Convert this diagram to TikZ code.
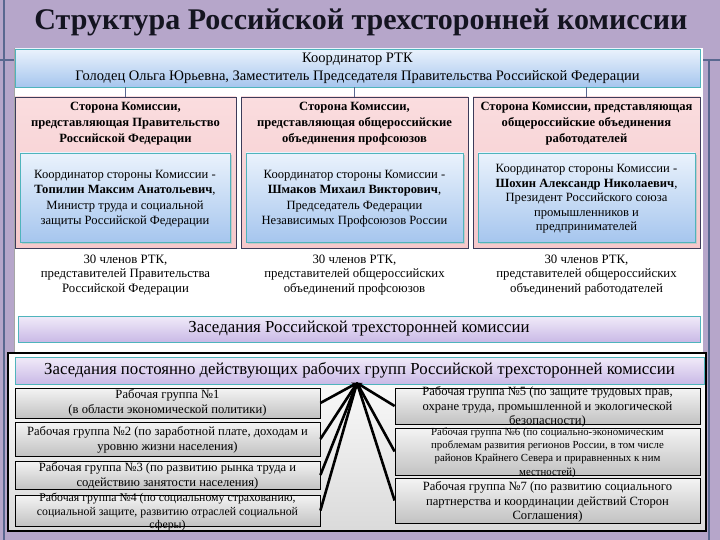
\documentclass[tikz,border=0pt]{standalone}
\usepackage{fontspec}
\setmainfont{Liberation Serif}
\usetikzlibrary{shadings,arrows.meta}
\definecolor{bgl}{HTML}{B6A6CA}
\definecolor{frameline}{HTML}{5A6890}
\definecolor{tealb}{HTML}{4FB4BC}
\definecolor{pinkc}{HTML}{F6C8CB}
\definecolor{pinkt}{HTML}{FADDDF}
\definecolor{colborder}{HTML}{3C3C5A}
\definecolor{bluet}{HTML}{EAF2FC}
\definecolor{blueb}{HTML}{A6C6EE}
\definecolor{lavt}{HTML}{F1EBF9}
\definecolor{lavb}{HTML}{C9B9E6}
\definecolor{greyt}{HTML}{F4F4F4}
\definecolor{greyb}{HTML}{C2C2C2}
\definecolor{titlec}{HTML}{141420}
\newcommand\fTitle{\fontsize{30}{36}\selectfont\bfseries}
\newcommand\fTop{\fontsize{14.5}{18}\selectfont}
\newcommand\fHead{\fontsize{12.6}{16}\selectfont\bfseries}
\newcommand\fIn{\fontsize{12.6}{15.5}\selectfont}
\newcommand\fInS{\fontsize{12.6}{14.6}\selectfont}
\newcommand\fMem{\fontsize{12.8}{14.5}\selectfont}
\newcommand\fBar{\fontsize{16.8}{20}\selectfont}
\newcommand\fWg{\fontsize{12.6}{14.5}\selectfont}
\newcommand\fWgS{\fontsize{11.8}{13.5}\selectfont}
\newcommand\fWgT{\fontsize{10.8}{13.2}\selectfont}
\begin{document}
\begin{tikzpicture}[x=1pt,y=-1pt,
  topbox/.style={draw=tealb, line width=0.8pt, top color=bluet, bottom color=blueb, minimum width=685pt, minimum height=38pt, inner sep=0pt},
  colbox/.style={draw=colborder, line width=0.8pt, top color=pinkt, bottom color=pinkc, minimum height=151pt, inner sep=0pt},
  innerbox/.style={draw=tealb, line width=0.8pt, top color=bluet, bottom color=blueb, minimum height=89pt, inner sep=0pt},
  shadowbox/.style={fill=gray!45, minimum height=89pt, inner sep=0pt},
  barbox/.style={draw=tealb, line width=0.8pt, top color=lavt, bottom color=lavb, inner sep=0pt},
  wgbox/.style={draw=black, line width=0.8pt, top color=greyt, bottom color=greyb, minimum width=305pt, inner sep=0pt},
  txt/.style={align=center, inner sep=0pt, text=black},
  conn/.style={draw=frameline, line width=1.6pt},
  link/.style={draw=black, line width=2.6pt, -{Stealth[length=6pt,width=6pt]}, shorten >=-1pt}
]
\useasboundingbox (0,0) rectangle (720,540);
\fill[bgl] (0,0) rectangle (720,540);
% slide decoration lines
\draw[frameline, line width=1.2pt] (4,0) -- (4,540);
\draw[frameline, line width=1.2pt] (0,60) -- (15,60);
\draw[frameline, line width=1.2pt] (700,60) -- (720,60);
\draw[frameline, line width=1.2pt] (709,60) -- (709,540);
% title
\node[txt, text=titlec, font=\fTitle] (title) at (361,22) {Структура Российской трехсторонней комиссии};
% white panel
\fill[white] (15,48) rectangle (703,353);
\draw[gray!70, line width=0.6pt] (14.5,48) -- (14.5,353);
% top coordinator box
\node[topbox] (top) at (357.5,68) {};
\node[txt, font=\fTop] at (top) {Координатор РТК\\Голодец Ольга Юрьевна, Заместитель Председателя Правительства Российской Федерации};
% columns
\node[colbox, minimum width=221pt] (col1) at (125.5,172.5) {};
\node[colbox, minimum width=227pt] (col2) at (354.5,172.5) {};
\node[colbox, minimum width=227pt] (col3) at (586.5,172.5) {};
\draw[conn] (col1.north |- top.south) -- (col1.north);
\draw[conn] (col2.north |- top.south) -- (col2.north);
\draw[conn] (col3.north |- top.south) -- (col3.north);
\node[txt, font=\fHead] (h1) at (125.5,124) {Сторона Комиссии,\\представляющая Правительство\\Российской Федерации};
\node[txt, font=\fHead] (h2) at (354.5,124) {Сторона Комиссии,\\представляющая общероссийские\\объединения профсоюзов};
\node[txt, font=\fHead] (h3) at (586.5,124) {Сторона Комиссии, представляющая\\общероссийские объединения\\работодателей};
% inner boxes with soft shadow
\node[shadowbox, minimum width=210pt] (sh1) at (127,199.5) {};
\node[shadowbox, minimum width=217pt] (sh2) at (356.5,199.5) {};
\node[shadowbox, minimum width=217pt] (sh3) at (588.5,199.5) {};
\node[innerbox, minimum width=210pt] (in1) at (125,197.5) {};
\node[innerbox, minimum width=217pt] (in2) at (354.5,197.5) {};
\node[innerbox, minimum width=217pt] (in3) at (586.5,197.5) {};
\node[txt, font=\fIn] at (125,198.5) {Координатор стороны Комиссии -\\\textbf{Топилин Максим Анатольевич},\\Министр труда и социальной\\защиты Российской Федерации};
\node[txt, font=\fIn] at (354.5,198.5) {Координатор стороны Комиссии -\\\textbf{Шмаков Михаил Викторович},\\Председатель Федерации\\Независимых Профсоюзов России};
\node[txt, font=\fInS] at (586.5,199) {Координатор стороны Комиссии -\\\textbf{Шохин Александр Николаевич},\\Президент Российского союза\\промышленников и\\предпринимателей};
% members
\node[txt, font=\fMem] (m1) at (125.5,275) {30 членов РТК,\\представителей Правительства\\Российской Федерации};
\node[txt, font=\fMem] (m2) at (354.5,275) {30 членов РТК,\\представителей общероссийских\\объединений профсоюзов};
\node[txt, font=\fMem] (m3) at (586.5,275) {30 членов РТК,\\представителей общероссийских\\объединений работодателей};
% sessions bar
\node[barbox, minimum width=682pt, minimum height=26pt] (bar1) at (359,329) {};
\node[txt, font=\fBar] at (bar1) {Заседания Российской трехсторонней комиссии};
% lower block
\node[draw=black, line width=1.3pt, top color=white, bottom color=greyb!60, minimum width=698pt, minimum height=178pt, inner sep=0pt] (lower) at (357,442) {};
\node[barbox, minimum width=689pt, minimum height=27pt] (bar2) at (359.5,370.5) {};
\node[txt, font=\fBar] at (bar2) {Заседания постоянно действующих рабочих групп Российской трехсторонней комиссии};
\coordinate (hub) at (357,383);
% working groups
\node[wgbox, minimum height=30pt] (wg1) at (167.5,403) {};
\node[wgbox, minimum height=34pt] (wg2) at (167.5,439) {};
\node[wgbox, minimum height=28pt] (wg3) at (167.5,475) {};
\node[wgbox, minimum height=31pt] (wg4) at (167.5,510.5) {};
\node[wgbox, minimum height=36pt] (wg5) at (547.5,406) {};
\node[wgbox, minimum height=47pt] (wg6) at (547.5,451.5) {};
\node[wgbox, minimum height=45pt] (wg7) at (547.5,500.5) {};
\node[txt, font=\fWg] at (167.5,403) {Рабочая группа №1\\(в области экономической политики)};
\node[txt, font=\fWg] at (167.5,440) {Рабочая группа №2 (по заработной плате, доходам и\\уровню жизни населения)};
\node[txt, font=\fWg] at (167.5,476) {Рабочая группа №3 (по развитию рынка труда и\\содействию занятости населения)};
\node[txt, font=\fWgS] at (167.5,512.5) {Рабочая группа №4 (по социальному страхованию,\\социальной защите, развитию отраслей социальной\\сферы)};
\node[txt, font=\fWg] at (547.5,407) {Рабочая группа №5 (по защите трудовых прав,\\охране труда, промышленной и экологической\\безопасности)};
\node[txt, font=\fWgT] at (547.5,452.5) {Рабочая группа №6 (по социально-экономическим\\проблемам развития регионов России, в том числе\\районов Крайнего Севера и приравненных к ним\\местностей)};
\node[txt, font=\fWg] at (547.5,502) {Рабочая группа №7 (по развитию социального\\партнерства и координации действий Сторон\\Соглашения)};
% links
\draw[link] (wg1.east) -- (hub);
\draw[link] (wg2.east) -- (hub);
\draw[link] (wg3.east) -- (hub);
\draw[link] (wg4.east) -- (hub);
\draw[link] (wg5.west) -- (hub);
\draw[link] (wg6.west) -- (hub);
\draw[link] (wg7.west) -- (hub);
\end{tikzpicture}
\end{document}
